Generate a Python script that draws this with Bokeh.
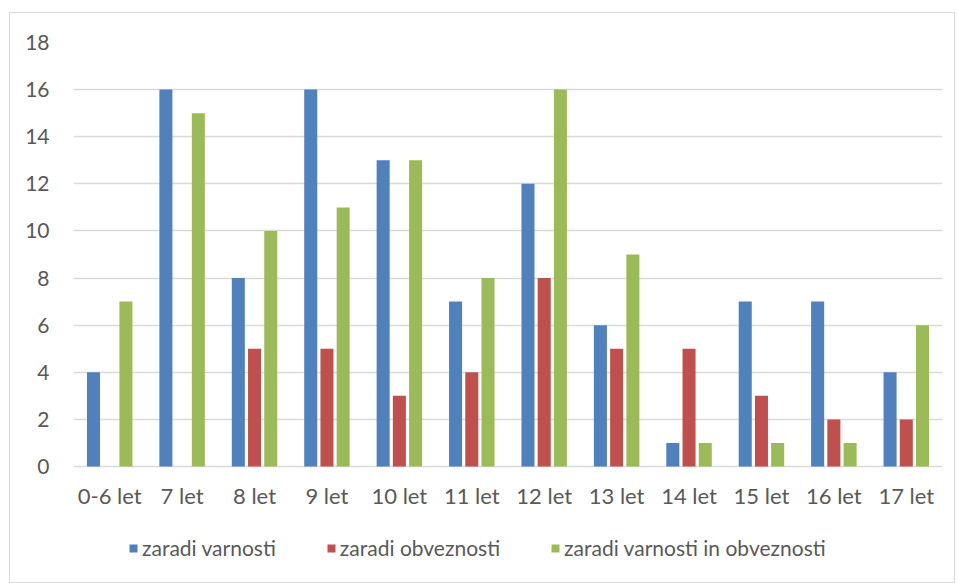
from bokeh.plotting import figure
from bokeh.models import ColumnDataSource, FactorRange, Range1d, Legend, LegendItem, FixedTicker
from bokeh.transform import dodge
from bokeh.embed import file_html
from bokeh.resources import INLINE

categories = ["0-6 let", "7 let", "8 let", "9 let", "10 let", "11 let",
              "12 let", "13 let", "14 let", "15 let", "16 let", "17 let"]
varnosti = [4, 16, 8, 16, 13, 7, 12, 6, 1, 7, 7, 4]
obveznosti = [0, 0, 5, 5, 3, 4, 8, 5, 5, 3, 2, 2]
varnosti_in_obveznosti = [7, 15, 10, 11, 13, 8, 16, 9, 1, 1, 1, 6]
series_names = ["zaradi varnosti", "zaradi obveznosti", "zaradi varnosti in obveznosti"]
y_ticks = [0, 2, 4, 6, 8, 10, 12, 14, 16, 18]

colors = ["#4F81BD", "#C0504D", "#9BBB59"]
FONT = "Lato"
TXT = "#595959"

# frame extends below the value axis so legend and category labels can live inside it
PX_PER_UNIT = 424 / 18
FRAME_H = 540
y_start = 18 - FRAME_H / PX_PER_UNIT

src = ColumnDataSource(dict(cat=categories, a=varnosti, b=obveznosti, c=varnosti_in_obveznosti,
                            base=[0] * len(categories)))

p = figure(x_range=FactorRange(*categories, range_padding=0), y_range=Range1d(y_start, 18),
           frame_width=869, frame_height=FRAME_H, output_backend="svg", toolbar_location=None,
           min_border_left=63, min_border_right=12, min_border_top=29, min_border_bottom=0)
p.styles = {"border": "1px solid #d9d9d9", "margin-top": "12px", "margin-left": "9px"}

renderers = []
for col, off, colr in zip(["a", "b", "c"], [-0.224, 0, 0.224], colors):
    r = p.vbar(x=dodge("cat", off, range=p.x_range), top=col, width=0.18, source=src,
               fill_color=colr, line_color=None)
    renderers.append(r)

# category labels
p.text(x="cat", y="base", text="cat", source=src, y_offset=29,
       text_align="center", text_baseline="middle", text_font_size="22px",
       text_color=TXT, text_font={"value": FONT})

p.outline_line_color = None
p.xgrid.grid_line_color = None
p.ygrid.grid_line_color = "#D9D9D9"
p.ygrid.grid_line_width = 1.5
p.yaxis.ticker = FixedTicker(ticks=y_ticks)
p.xaxis.visible = False

ax = p.yaxis[0]
ax.axis_line_color = None
ax.major_tick_line_color = None
ax.minor_tick_line_color = None
ax.major_label_text_font = FONT
ax.major_label_text_color = TXT
ax.major_label_text_font_size = "21px"
ax.major_label_standoff = 18

legend = Legend(items=[LegendItem(label=n, renderers=[r]) for n, r in zip(series_names, renderers)],
                orientation="horizontal", location=(55, 22))
legend.label_text_font = FONT
legend.label_text_font_size = "21px"
legend.label_text_color = TXT
legend.glyph_width = 10
legend.glyph_height = 10
legend.label_standoff = 4
legend.spacing = 50
legend.border_line_color = None
legend.background_fill_alpha = 0
legend.margin = 0
legend.padding = 0
p.add_layout(legend)

open("out.html", "w").write(file_html(p, INLINE))
